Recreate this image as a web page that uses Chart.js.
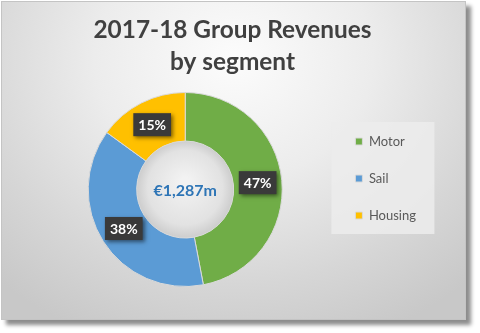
<!DOCTYPE html>
<html>
<head>
<meta charset="utf-8">
<script src="https://cdn.jsdelivr.net/npm/chart.js@4"></script>
<style>
html, body { margin: 0; padding: 0; background: #fff; }
#frame {
    position: absolute; left: 1px; top: 1px; width: 463px; height: 317px;
    border: 1px solid #c4c4c4;
    background: radial-gradient(ellipse 75% 95% at 50% 18%, #fcfcfc 0%, #ececec 40%, #d6d6d6 75%, #c8c8c8 100%);
    box-shadow: 5px 5px 4px rgba(0, 0, 0, 0.45);
}
#wrap { position: absolute; left: 0; top: 0; width: 480px; height: 333px; }
</style>
</head>
<body>
<div id="frame"></div>
<div id="wrap"><canvas id="chart" width="480" height="333"></canvas></div>
<script>
const segments = ['Motor', 'Sail', 'Housing'];
const shares = [47, 38, 15];
const segmentColors = ['#70AD47', '#5B9BD5', '#FFC000'];
const titleLines = ['2017-18 Group Revenues', 'by segment'];
const totalRevenue = '€1,287m';

const FONT = 'Lato, "Open Sans", sans-serif';

// grey box behind the legend entries
const legendBackdrop = {
    id: 'legendBackdrop',
    beforeDraw(chart) {
        const boxes = chart.legend && chart.legend.legendHitBoxes;
        if (!boxes || !boxes.length) return;
        const first = boxes[0], last = boxes[boxes.length - 1];
        const ctx = chart.ctx;
        ctx.save();
        ctx.fillStyle = 'rgba(236,236,236,0.85)';
        ctx.fillRect(first.left - 24, first.top - 13, 103, last.top + last.height + 12 - (first.top - 13));
        ctx.restore();
    }
};

// shaded hole in the middle of the ring
const holeShade = {
    id: 'holeShade',
    beforeDatasetsDraw(chart) {
        const arc = chart.getDatasetMeta(0).data[0];
        if (!arc) return;
        const ctx = chart.ctx;
        const r = arc.innerRadius;
        const g = ctx.createRadialGradient(arc.x, arc.y - 8, 4, arc.x, arc.y, r);
        g.addColorStop(0, '#f2f2f2');
        g.addColorStop(0.75, '#e2e2e2');
        g.addColorStop(1, '#cdcdcd');
        ctx.save();
        ctx.fillStyle = g;
        ctx.beginPath();
        ctx.arc(arc.x, arc.y, r, 0, Math.PI * 2);
        ctx.fill();
        ctx.restore();
    }
};

// percentage boxes + total in the centre
const ringLabels = {
    id: 'ringLabels',
    afterDatasetsDraw(chart) {
        const ctx = chart.ctx;
        const meta = chart.getDatasetMeta(0);
        const values = chart.data.datasets[0].data;
        const total = values.reduce((a, b) => a + b, 0);
        ctx.save();
        ctx.font = 'bold 14px ' + FONT;
        ctx.textAlign = 'center';
        ctx.textBaseline = 'middle';
        meta.data.forEach((arc, i) => {
            const pos = arc.tooltipPosition();
            const text = Math.round(values[i] / total * 100) + '%';
            const w = ctx.measureText(text).width + 10;
            const h = 23;
            ctx.save();
            ctx.shadowColor = 'rgba(0,0,0,0.5)';
            ctx.shadowBlur = 4;
            ctx.shadowOffsetX = 2;
            ctx.shadowOffsetY = 2;
            ctx.fillStyle = '#3a3a3a';
            ctx.fillRect(pos.x - w / 2, pos.y - h / 2, w, h);
            ctx.restore();
            ctx.fillStyle = '#ffffff';
            ctx.fillText(text, pos.x, pos.y + 1);
        });
        const c = meta.data[0];
        ctx.font = 'bold 16px ' + FONT;
        ctx.fillStyle = '#2E75B6';
        ctx.fillText(totalRevenue, c.x, c.y + 1);
        ctx.restore();
    }
};

new Chart(document.getElementById('chart'), {
    type: 'doughnut',
    data: {
        labels: segments,
        datasets: [{
            data: shares,
            backgroundColor: segmentColors,
            borderColor: '#d9d9d9',
            borderWidth: 1,
            clip: false
        }]
    },
    options: {
        responsive: false,
        animation: false,
        radius: 97,
        cutout: '50%',
        layout: { padding: { left: 39, right: 54, top: 0, bottom: 65 } },
        plugins: {
            tooltip: { enabled: false },
            title: {
                display: true,
                text: titleLines,
                color: '#404040',
                font: { family: FONT, size: 24.4, weight: 'bold', lineHeight: 32 / 24.4 },
                padding: { top: 14, bottom: 33 }
            },
            legend: {
                position: 'right',
                align: 'start',
                fullSize: false,
                labels: {
                    boxWidth: 7,
                    boxHeight: 7,
                    padding: 24,
                    color: '#595959',
                    font: { family: FONT, size: 13 }
                }
            }
        }
    },
    plugins: [legendBackdrop, holeShade, ringLabels]
});
</script>
</body>
</html>
